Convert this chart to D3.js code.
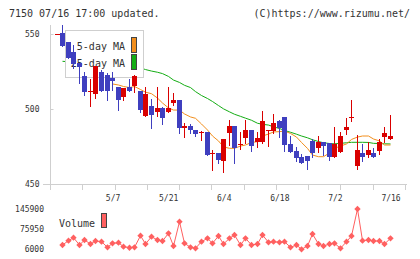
<!DOCTYPE html>
<html>
<head>
<meta charset="utf-8">
<script src="https://cdn.jsdelivr.net/npm/d3@7"></script>
<style>
  body { margin: 0; background: #fff; }
  svg { display: block; }
  text { font-family: "DejaVu Sans Mono", monospace; fill: #333; }
</style>
</head>
<body>
<div id="chart"></div>
<script>

// ━━━━━━━━━━━━━━━━━━━━━━━━━━━━━━━━━━━━━━━━━━━━━━━━━━━━━━━━━━━━━━━━━━━━━━━━━━━━━━
// Data //////////////////////////////////////////////////
// ━━━━━━━━━━━━━━━━━━━━━━━━━━━━━━━━━━━━━━━━━━━━━━━━━━━━━━━━━━━━━━━━━━━━━━━━━━━━━━

const dates = [
  '4/18','4/21','4/22','4/23','4/24','4/25','4/28','4/30','5/1','5/2',
  '5/7','5/8','5/9','5/12','5/13','5/14','5/15','5/16','5/19','5/20',
  '5/21','5/22','5/23','5/26','5/27','5/28','5/29','5/30','6/2','6/3',
  '6/4','6/5','6/6','6/9','6/10','6/11','6/12','6/13','6/16','6/17',
  '6/18','6/19','6/20','6/23','6/24','6/25','6/26','6/27','6/30','7/1',
  '7/2','7/3','7/4','7/7','7/8','7/9','7/10','7/11','7/14','7/15',
  '7/16'
];

const opens = [
  549.8, 550.4, 544.9, 537.8, 530.9, 522.0, 511.4, 510.0, 524.9, 522.7,
  520.4, 514.9, 508.2, 514.9, 515.3, 512.0, 495.6, 502.0, 498.2, 500.4,
  498.2, 504.2, 506.0, 487.6, 488.7, 486.0, 484.0, 484.4, 469.8, 470.9,
  465.6, 484.2, 488.7, 476.0, 480.4, 486.0, 477.8, 478.2, 485.8, 485.3,
  492.0, 494.4, 476.4, 472.0, 467.8, 468.7, 478.7, 474.2, 478.2, 477.1,
  468.2, 471.6, 486.0, 494.2, 462.2, 470.7, 469.3, 470.7, 472.0, 481.6,
  480.0
];
const highs = [
  550.2, 556.0, 544.9, 542.7, 531.0, 524.5, 520.0, 528.7, 526.0, 524.0,
  524.5, 515.0, 514.2, 520.0, 522.5, 512.0, 514.9, 506.7, 514.9, 501.6,
  514.9, 510.4, 506.0, 490.6, 490.0, 486.0, 485.5, 484.4, 472.7, 470.9,
  480.0, 492.7, 488.7, 484.9, 492.7, 486.0, 484.9, 498.7, 486.2, 496.7,
  492.7, 494.4, 482.0, 474.9, 469.8, 468.7, 480.0, 482.0, 478.2, 477.1,
  488.2, 484.9, 493.8, 506.0, 482.7, 476.7, 477.8, 473.8, 480.0, 488.2,
  496.0
];
const lows = [
  549.8, 542.2, 534.2, 527.1, 517.1, 509.3, 502.0, 507.6, 512.0, 506.0,
  513.0, 499.5, 506.0, 512.0, 511.6, 497.8, 495.6, 487.6, 495.6, 490.0,
  498.2, 502.7, 483.8, 481.6, 484.2, 482.2, 479.5, 469.5, 459.3, 463.8,
  458.2, 476.0, 464.2, 473.3, 477.1, 472.0, 474.9, 477.1, 475.6, 483.8,
  481.6, 472.0, 471.6, 465.3, 464.2, 460.0, 467.8, 471.6, 469.3, 466.0,
  468.2, 471.6, 483.6, 492.0, 460.0, 465.3, 468.2, 468.2, 470.2, 477.8,
  480.0
];
const closes = [
  550.2, 542.2, 534.2, 529.8, 528.0, 511.6, 511.8, 528.7, 512.2, 512.2,
  518.7, 506.0, 514.2, 512.0, 522.0, 499.3, 510.0, 496.0, 500.4, 493.8,
  500.4, 506.0, 487.6, 488.7, 485.7, 483.5, 484.6, 469.5, 470.9, 466.0,
  480.0, 488.7, 473.8, 476.9, 486.0, 475.6, 480.4, 492.0, 486.2, 490.4,
  487.1, 476.0, 471.6, 467.6, 464.2, 465.6, 470.4, 478.2, 475.6, 468.2,
  476.4, 482.0, 488.0, 494.9, 472.7, 468.2, 472.7, 468.2, 477.8, 484.2,
  482.0
];

// medias moviles; null = tapado por la leyenda
const ma5 = [
  null, 548, 543, null, null, null, null, null, null, null,
  516.7, 516, 515, 514.3, 515, 513, 511.2, 510.2, 507.3, 504,
  500.7, 499.3, 499.3, 496.7, 494.7, 493.8, 490, 486, 482, 478.7,
  474.7, 473.8, 473.8, 475.3, 476, 477.7, 478.2, 482, 483.3, 484.7,
  484.9, 485.3, 483.7, 481.3, 477.7, 473.7, 469.3, 468.2, 468.2, 470.7,
  473.8, 475.3, 476.7, 479.7, 481.3, 482, 482, 480, 478.7, 476,
  476
];
const ma25 = [
  null, 531.8, 531.5, null, null, null, null, null, null, null,
  null, null, null, null, null, 527.4, 526.3, 525.3, 524.5, 523.6,
  521.7, 519.3, 517.7, 515.8, 514.3, 511.6, 509, 507, 505, 502.3,
  500.1, 498.1, 496.5, 495.1, 493.9, 492.5, 490.5, 489.8, 489.3, 488.1,
  487, 485.7, 484.5, 483.2, 482, 480.8, 479.5, 478.3, 477.5, 477,
  476.8, 477.1, 477.5, 477.8, 477.8, 477.8, 477.7, 477.1, 477, 476.8,
  476.7
];

const volumes = [
  null, 20900, 35900, 46300, 20900, 38300, 24400, 34800, 32400, 12900,
  26800, 28900, 15000, 11500, 12900, 53200, 24400, 49700, 38300, 34800,
  61500, 17500, 101800, 26800, 12900, 9500, 32400, 44200, 26800, 52200,
  24400, 44200, 55600, 20900, 44200, 20900, 24400, 55600, 30300, 32400,
  30300, 32400, 12900, 20900, 6000, 17500, 59100, 24400, 17500, 24400,
  26800, 9500, 32400, 52200, 145900, 35900, 38300, 34800, 34800, 24400,
  44200
];

const priceTicks  = [450, 500, 550];
const volumeTicks = [6000, 75950, 145900];
const dateLabels  = ['5/7', '5/21', '6/4', '6/18', '7/2', '7/16'];

// ━━━━━━━━━━━━━━━━━━━━━━━━━━━━━━━━━━━━━━━━━━━━━━━━━━━━━━━━━━━━━━━━━━━━━━━━━━━━━━
// SVG setup ////////////////////////////////////////////////////////////////////
// ━━━━━━━━━━━━━━━━━━━━━━━━━━━━━━━━━━━━━━━━━━━━━━━━━━━━━━━━━━━━━━━━━━━━━━━━━━━━━━

const width = 420;
const height = 259;

const RED = '#d90000', BLUE = '#3f3fbf', ORANGE = '#f28e1c', GREEN = '#14ad14', VOL = '#ff6060', GRID = '#cfcfcf';

const svg = d3.select('#chart').append('svg')
  .attr('viewBox', [0, 0, width, height])
  .attr('width', width)
  .attr('height', height);

const x  = d3.scalePoint().domain(dates).range([56.5, 390]);
const y  = d3.scaleLinear().domain([450, 550]).range([184, 34]);
const yv = d3.scaleLinear().domain([6000, 145900]).range([249.3, 209]);
const px = d => Math.round(x(d));

const candles = dates.map((d, i) => ({ date: d, o: opens[i], h: highs[i], l: lows[i], c: closes[i] }));

// Header ///////////////////////////////////////////////////////////////////////

svg.append('text').attr('x', 9).attr('y', 16.5).attr('font-size', 10).text('7150 07/16 17:00 updated.');
svg.append('text').attr('x', 410).attr('y', 16.5).attr('font-size', 10).attr('text-anchor', 'end').text('(C)https://www.rizumu.net/');

// Axes /////////////////////////////////////////////////////////////////////////

const yAxis = svg.append('g')
  .attr('transform', 'translate(50.5,0)')
  .call(d3.axisLeft(y).tickValues(priceTicks).tickSizeInner(5).tickSizeOuter(0).tickPadding(6));
yAxis.select('.domain').remove();
yAxis.selectAll('.tick line').attr('x2', 3).attr('stroke', GRID);
yAxis.selectAll('.tick text').attr('font-size', 8).attr('font-family', 'DejaVu Sans Mono').attr('fill', '#333');

svg.append('line').attr('x1', 50.5).attr('x2', 50.5).attr('y1', 25).attr('y2', 184).attr('stroke', GRID);
svg.append('line').attr('x1', 43).attr('x2', 407).attr('y1', 184.5).attr('y2', 184.5).attr('stroke', GRID);

// marcas del eje inferior: 12 divisiones parejas, no siguen a las fechas
const xTicks = d3.scaleLinear().domain([0, 11]).range([50, 405]);
svg.append('g').selectAll('line')
  .data(d3.range(12))
  .join('line')
  .attr('x1', d => Math.round(xTicks(d)) + 0.5)
  .attr('x2', d => Math.round(xTicks(d)) + 0.5)
  .attr('y1', 185).attr('y2', 190)
  .attr('stroke', GRID);

const xAxis = svg.append('g')
  .attr('transform', 'translate(0.5,184)')
  .call(d3.axisBottom(x).tickValues(dateLabels).tickSize(0).tickPadding(11));
xAxis.select('.domain').remove();
xAxis.selectAll('.tick text').attr('font-size', 8).attr('font-family', 'DejaVu Sans Mono').attr('fill', '#333');

// Moving averages //////////////////////////////////////////////////////////////

const maLine = values => d3.line()
  .defined((d, i) => values[i] != null)
  .x(d => px(d) + 0.5)
  .y((d, i) => y(values[i]))(dates);

svg.append('path').attr('d', maLine(ma25)).attr('fill', 'none').attr('stroke', GREEN).attr('stroke-width', 1);
svg.append('path').attr('d', maLine(ma5)).attr('fill', 'none').attr('stroke', ORANGE).attr('stroke-width', 1);

// Legend (va debajo de las velas) ///////////////////////////////////////////////

const legend = svg.append('g');
legend.append('rect').attr('x', 65.5).attr('y', 30.5).attr('width', 78).attr('height', 47)
  .attr('fill', '#fff').attr('stroke', GRID);
legend.append('text').attr('x', 125).attr('y', 50).attr('font-size', 10).attr('text-anchor', 'end').text('5-day MA');
legend.append('text').attr('x', 125).attr('y', 67).attr('font-size', 10).attr('text-anchor', 'end').text('25-day MA');
legend.append('rect').attr('x', 131.5).attr('y', 37.5).attr('width', 5).attr('height', 15).attr('fill', ORANGE).attr('stroke', '#444');
legend.append('rect').attr('x', 131.5).attr('y', 54.5).attr('width', 5).attr('height', 15).attr('fill', GREEN).attr('stroke', '#444');

// Candles //////////////////////////////////////////////////////////////////////

const candleG = svg.append('g').selectAll('g')
  .data(candles)
  .join('g')
  .attr('fill', d => d.c >= d.o ? RED : BLUE)
  .attr('stroke', d => d.c >= d.o ? RED : BLUE);

candleG.append('line')
  .attr('x1', d => px(d.date) + 0.5)
  .attr('x2', d => px(d.date) + 0.5)
  .attr('y1', d => Math.round(y(d.h)))
  .attr('y2', d => Math.round(y(d.l)) + 1);

candleG.append('rect')
  .attr('stroke', 'none')
  .attr('x', d => px(d.date) - 2)
  .attr('width', 5)
  .attr('y', d => Math.round(y(Math.max(d.o, d.c))))
  .attr('height', d => Math.max(1, Math.round(y(Math.min(d.o, d.c))) - Math.round(y(Math.max(d.o, d.c)))));

// Volume ///////////////////////////////////////////////////////////////////////

volumeTicks.forEach(v => {
  svg.append('text').attr('x', 44).attr('y', yv(v)).attr('dy', '0.35em')
    .attr('font-size', 8).attr('text-anchor', 'end').text(v);
});

svg.append('text').attr('x', 59).attr('y', 226.5).attr('font-size', 10).text('Volume');
svg.append('rect').attr('x', 101.5).attr('y', 213.5).attr('width', 5).attr('height', 14).attr('fill', VOL).attr('stroke', '#444');

svg.append('path')
  .attr('d', d3.line()
    .defined((d, i) => volumes[i] != null)
    .x(d => px(d) + 0.5)
    .y((d, i) => yv(volumes[i]))(dates))
  .attr('fill', 'none').attr('stroke', VOL).attr('stroke-width', 1);

svg.append('g').selectAll('path')
  .data(dates.filter((d, i) => volumes[i] != null))
  .join('path')
  .attr('d', d3.symbol(d3.symbolSquare, 20))
  .attr('transform', d => `translate(${px(d) + 0.5},${yv(volumes[dates.indexOf(d)])}) rotate(45)`)
  .attr('fill', VOL);

</script>
</body>
</html>
